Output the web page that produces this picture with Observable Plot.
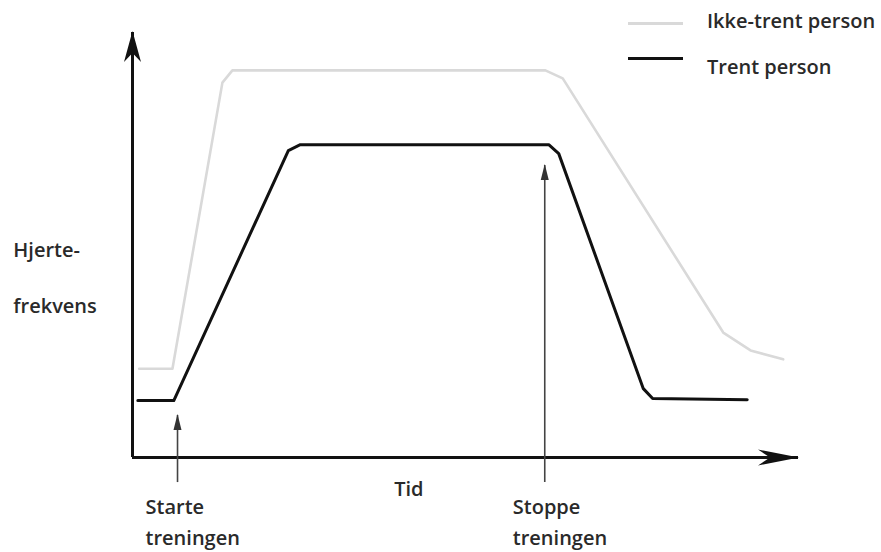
<!DOCTYPE html>
<html>
<head>
<meta charset="utf-8">
<script src="https://cdn.jsdelivr.net/npm/d3@7"></script>
<script src="https://cdn.jsdelivr.net/npm/@observablehq/plot@0.6"></script>
<style>
  html, body { margin: 0; padding: 0; background: #fff; }
  #wrap { position: relative; width: 881px; height: 552px; font-family: "Open Sans", Lato, sans-serif; }
  .leg { position: absolute; left: 628px; width: 860px; }
  .sw { position: absolute; left: 0; width: 55px; }
  .lt { position: absolute; left: 79px; font-size: 20px; font-weight: 600; line-height: 18px; color: #2a2a2a; white-space: nowrap; }
</style>
</head>
<body>
<div id="wrap"></div>
<script>
// Time (arbitrary units) and heart rate (arbitrary units)
const untrainedTime = [1, 6, 13.5, 15, 62, 64.6, 88.7, 92.8, 97.7];
const untrainedHR   = [20.9, 20.9, 88.2, 91.1, 91.1, 89.2, 29.4, 25.2, 23.1];
const trainedTime   = [0.8, 6.2, 23.4, 25.2, 62.5, 64.0, 76.7, 78.1, 92.3];
const trainedHR     = [13.4, 13.4, 72.2, 73.6, 73.6, 71.5, 16.2, 13.9, 13.6];

const seriesNames = ["Ikke-trent person", "Trent person"];
const seriesColors = ["#d9d9d9", "#111111"];
const eventTimes = [6.76, 61.9];
const eventTops = [9.9, 68.7];
const eventLabels = [["Starte", "treningen"], ["Stoppe", "treningen"]];
const yLabel = ["Hjerte-", "frekvens"];
const xLabel = "Tid";

const untrained = untrainedTime.map((t, i) => ({t, hr: untrainedHR[i]}));
const trained = trainedTime.map((t, i) => ({t, hr: trainedHR[i]}));
const events = eventTimes.map((t, i) => ({t, top: eventTops[i], l1: eventLabels[i][0], l2: eventLabels[i][1]}));

const font = "'Open Sans', Lato, sans-serif";
const txt = "#2a2a2a";
const fs = 20;
const fw = 600;

const chart = Plot.plot({
  width: 881,
  height: 552,
  marginLeft: 132,
  marginRight: 83,
  marginTop: 32,
  marginBottom: 95,
  x: {domain: [0, 100], axis: null},
  y: {domain: [0, 100], axis: null},
  style: {fontFamily: font, background: "#fff"},
  marks: [
    Plot.ruleX([0], {y1: 0, y2: 100, stroke: "#111", strokeWidth: 3, ariaDescription: "yaxis"}),
    Plot.ruleY([0], {x1: 0, x2: 100, stroke: "#111", strokeWidth: 3, ariaDescription: "xaxis"}),
    Plot.ruleX(events, {x: "t", y1: -5.9, y2: "top", stroke: "#444", strokeWidth: 1.6, ariaDescription: "events"}),
    Plot.line(untrained, {x: "t", y: "hr", stroke: seriesColors[0], strokeWidth: 2.6, strokeLinejoin: "round"}),
    Plot.line(trained, {x: "t", y: "hr", stroke: seriesColors[1], strokeWidth: 3, strokeLinejoin: "round"}),
    Plot.text(events, {x: d => d.t - 4.8, y: -13.4, text: "l1", textAnchor: "start", lineAnchor: "bottom", fontSize: fs, fontWeight: fw, fill: txt}),
    Plot.text(events, {x: d => d.t - 4.8, y: -20.7, text: "l2", textAnchor: "start", lineAnchor: "bottom", fontSize: fs, fontWeight: fw, fill: txt}),
    Plot.text([xLabel], {x: 41.5, y: -9.0, text: d => d, textAnchor: "middle", lineAnchor: "bottom", fontSize: fs, fontWeight: fw, fill: txt}),
    Plot.text([yLabel[0]], {x: -17.9, y: 47.1, text: d => d, textAnchor: "start", lineAnchor: "bottom", fontSize: fs, fontWeight: fw, fill: txt}),
    Plot.text([yLabel[1]], {x: -17.9, y: 33.9, text: d => d, textAnchor: "start", lineAnchor: "bottom", fontSize: fs, fontWeight: fw, fill: txt})
  ]
});

// arrowheads
const svg = d3.select(chart);
const defs = svg.insert("defs", ":first-child");
function marker(id, d, fill) {
  defs.append("marker").attr("id", id).attr("markerUnits", "userSpaceOnUse")
    .attr("markerWidth", 1).attr("markerHeight", 1).attr("refX", 0).attr("refY", 0)
    .attr("orient", "auto").attr("overflow", "visible")
    .append("path").attr("d", d).attr("fill", fill);
}
marker("ahY", "M1,0L-30,-8.5L-21,0L-30,8.5Z", "#111");
marker("ahX", "M1,0L-40,-8L-28,0L-40,8Z", "#111");
marker("ahS", "M1,0L-15,-4L-15,4Z", "#333");
svg.selectAll('g[aria-description="yaxis"] line').attr("marker-end", "url(#ahY)");
svg.selectAll('g[aria-description="xaxis"] line').attr("marker-end", "url(#ahX)");
svg.selectAll('g[aria-description="events"] line').attr("marker-end", "url(#ahS)");

const wrap = document.getElementById("wrap");
wrap.appendChild(chart);

// legend
const legendTops = [12, 58];
const legendLineY = [22, 57];
const legendLineH = [2.5, 3];
seriesNames.forEach((name, i) => {
  const row = document.createElement("div");
  row.className = "leg";
  row.style.top = "0px";
  const sw = document.createElement("div");
  sw.className = "sw";
  sw.style.top = legendLineY[i] + "px";
  sw.style.height = legendLineH[i] + "px";
  sw.style.background = seriesColors[i];
  const lt = document.createElement("div");
  lt.className = "lt";
  lt.style.top = legendTops[i] + "px";
  lt.textContent = name;
  row.appendChild(sw);
  row.appendChild(lt);
  wrap.appendChild(row);
});
</script>
</body>
</html>
